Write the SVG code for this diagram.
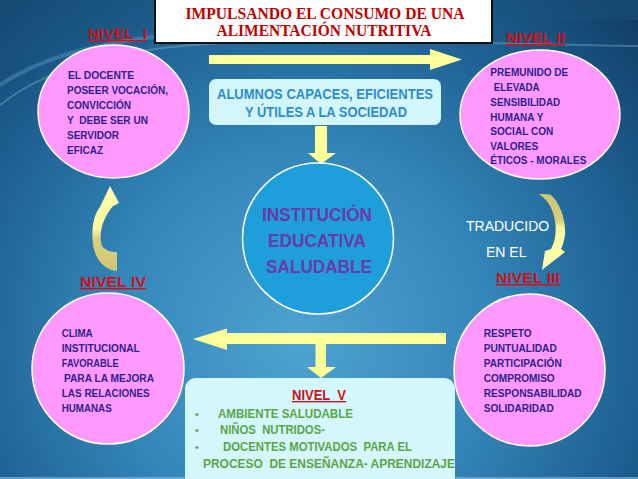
<svg xmlns="http://www.w3.org/2000/svg" width="638" height="479" viewBox="0 0 638 479">
<defs>
<radialGradient id="bg" cx="300" cy="340" r="460" gradientUnits="userSpaceOnUse">
<stop offset="0" stop-color="#4ea3d1"/>
<stop offset="0.4" stop-color="#3587ba"/>
<stop offset="0.75" stop-color="#1d5f90"/>
<stop offset="1" stop-color="#123f68"/>
</radialGradient>
<linearGradient id="gl" x1="0" y1="186" x2="0" y2="271" gradientUnits="userSpaceOnUse">
<stop offset="0" stop-color="#ffffb0"/>
<stop offset="0.5" stop-color="#fbf7a0"/>
<stop offset="0.62" stop-color="#dcd27e"/>
<stop offset="1" stop-color="#cfc472"/>
</linearGradient>
<linearGradient id="gr" x1="0" y1="194" x2="0" y2="270" gradientUnits="userSpaceOnUse">
<stop offset="0" stop-color="#cfc472"/>
<stop offset="0.35" stop-color="#dad07c"/>
<stop offset="0.45" stop-color="#fbf7a0"/>
<stop offset="1" stop-color="#ffffb0"/>
</linearGradient>
<style>
.el{fill:#ff99ff;stroke:#ffffff;stroke-width:1.5}
.et{font-family:"Liberation Sans",Arial,sans-serif;font-weight:bold;font-size:11.5px;fill:#2d1f8c}
.nv{font-family:"Liberation Sans",Arial,sans-serif;font-weight:bold;font-size:14px;fill:#d0101a;text-decoration:underline;white-space:pre}
.ar{fill:#ffff99}
.gt{font-family:"Liberation Sans",Arial,sans-serif;font-weight:bold;font-size:12.5px;fill:#5aa646;white-space:pre}
.bl{font-family:"Liberation Sans",Arial,sans-serif;font-size:11px;fill:#6a9a6a}
.wt{font-family:"Liberation Sans",Arial,sans-serif;font-size:14px;fill:#ffffff}
.ct{font-family:"Liberation Sans",Arial,sans-serif;font-weight:bold;font-size:18.5px;fill:#6a3aa8}
.at{font-family:"Liberation Sans",Arial,sans-serif;font-weight:bold;font-size:15.5px;fill:#2f8ccc}
.tt{font-family:"Liberation Serif","Times New Roman",serif;font-weight:bold;font-size:16px;fill:#c00000}
</style>
</defs>
<rect x="0" y="0" width="638" height="479" fill="url(#bg)"/>
<path d="M0 70 C 60 40, 150 25, 280 22 L 638 20 L 638 0 L 0 0 Z" fill="#1b5a82" opacity="0.35"/>
<path d="M0 105 C 50 65, 130 45, 250 42 C 400 40, 520 44, 638 46" fill="none" stroke="#9fdcec" stroke-width="2" opacity="0.3"/>
<path d="M0 85 C 45 55, 110 38, 200 33" fill="none" stroke="#8fd4e6" stroke-width="4" opacity="0.25"/>
<line x1="0" y1="478" x2="638" y2="478" stroke="#9bd0ec" stroke-width="1.5" opacity="0.7"/>

<g id="connectors">
<path class="ar" d="M209 55 H430 V49 L462 59.5 L430 70 V64 H209 Z"/>
<path class="ar" d="M315 126 H327 V153 H336 L321 164 L308 153 H315 Z"/>
<path class="ar" d="M446 333 H227 V328.5 L193 339 L227 350 V344 H446 Z"/>
<path class="ar" d="M315.5 344 H326 V367 H336 L321 378 L307 367 H315.5 Z"/>
<path fill="url(#gl)" d="M110 186 L119 203 L112.5 206.5 C 103 218, 98 234, 102 246 C 106 251, 111 252, 117 252 L117 271 C 104 270, 95 259, 93 244 C 91 228, 94 214, 100 207 Z"/>
<path fill="url(#gr)" d="M539 194 C 545 194, 549 194, 551 195 C 560 203, 566 220, 565 235 C 564 242, 562 247, 561 249 L565 252 L542 270 L545 251 L551 249 C 556 240, 557 228, 554 216 C 551 205, 546 199, 539 194 Z"/>
</g>

<g id="title">
<rect x="155" y="-2" width="337" height="45" fill="#ffffff" stroke="#111111" stroke-width="2"/>
<text class="tt" x="325" y="18.5" text-anchor="middle" textLength="279" lengthAdjust="spacingAndGlyphs">IMPULSANDO EL CONSUMO DE UNA</text>
<text class="tt" x="324" y="36" text-anchor="middle" textLength="215" lengthAdjust="spacingAndGlyphs">ALIMENTACIÓN NUTRITIVA</text>
</g>

<g id="nivel1">
<text class="nv" x="88" y="39" textLength="59" lengthAdjust="spacingAndGlyphs">NIVEL  I</text>
<ellipse class="el" cx="113.5" cy="111.5" rx="75.5" ry="66.5"/>
<text class="et" x="68" y="79" textLength="66" lengthAdjust="spacingAndGlyphs">EL DOCENTE</text>
<text class="et" x="67" y="94" textLength="101" lengthAdjust="spacingAndGlyphs">POSEER VOCACIÓN,</text>
<text class="et" x="67" y="109" textLength="64" lengthAdjust="spacingAndGlyphs">CONVICCIÓN</text>
<text class="et" x="67" y="124" textLength="81" lengthAdjust="spacingAndGlyphs" style="white-space:pre">Y  DEBE SER UN</text>
<text class="et" x="67" y="139" textLength="52" lengthAdjust="spacingAndGlyphs">SERVIDOR</text>
<text class="et" x="67" y="154" textLength="36" lengthAdjust="spacingAndGlyphs">EFICAZ</text>
</g>

<g id="nivel2">
<text class="nv" x="506" y="43" textLength="59" lengthAdjust="spacingAndGlyphs">NIVEL II</text>
<ellipse class="el" cx="540" cy="114.5" rx="80" ry="64.5"/>
<text class="et" x="490.3" y="75.5" textLength="78" lengthAdjust="spacingAndGlyphs">PREMUNIDO DE</text>
<text class="et" x="493.7" y="90.5" textLength="46" lengthAdjust="spacingAndGlyphs">ELEVADA</text>
<text class="et" x="490.3" y="105.5" textLength="70" lengthAdjust="spacingAndGlyphs">SENSIBILIDAD</text>
<text class="et" x="490.3" y="120.5" textLength="53" lengthAdjust="spacingAndGlyphs">HUMANA Y</text>
<text class="et" x="490.3" y="135" textLength="63" lengthAdjust="spacingAndGlyphs">SOCIAL CON</text>
<text class="et" x="490.3" y="149.5" textLength="48" lengthAdjust="spacingAndGlyphs">VALORES</text>
<text class="et" x="490.3" y="164" textLength="96" lengthAdjust="spacingAndGlyphs">ÉTICOS - MORALES</text>
</g>

<g id="traducido">
<text class="wt" x="466" y="231">TRADUCIDO</text>
<text class="wt" x="486" y="257">EN EL</text>
</g>

<g id="nivel3">
<text class="nv" x="496" y="283" textLength="64" lengthAdjust="spacingAndGlyphs">NIVEL III</text>
<ellipse class="el" cx="529.5" cy="370" rx="75.5" ry="76"/>
<text class="et" x="483.7" y="337" textLength="48" lengthAdjust="spacingAndGlyphs">RESPETO</text>
<text class="et" x="483.7" y="352" textLength="73" lengthAdjust="spacingAndGlyphs">PUNTUALIDAD</text>
<text class="et" x="483.7" y="367" textLength="78" lengthAdjust="spacingAndGlyphs">PARTICIPACIÓN</text>
<text class="et" x="483.7" y="382" textLength="71" lengthAdjust="spacingAndGlyphs">COMPROMISO</text>
<text class="et" x="483.7" y="397" textLength="98" lengthAdjust="spacingAndGlyphs">RESPONSABILIDAD</text>
<text class="et" x="483.7" y="412" textLength="70" lengthAdjust="spacingAndGlyphs">SOLIDARIDAD</text>
</g>

<g id="nivel4">
<text class="nv" x="80" y="287" textLength="66" lengthAdjust="spacingAndGlyphs">NIVEL IV</text>
<ellipse class="el" cx="108" cy="368.5" rx="76" ry="75.5"/>
<text class="et" x="61.7" y="337" textLength="31" lengthAdjust="spacingAndGlyphs">CLIMA</text>
<text class="et" x="61.7" y="352" textLength="78" lengthAdjust="spacingAndGlyphs">INSTITUCIONAL</text>
<text class="et" x="61.7" y="367" textLength="57" lengthAdjust="spacingAndGlyphs">FAVORABLE</text>
<text class="et" x="64" y="382" textLength="90" lengthAdjust="spacingAndGlyphs">PARA LA MEJORA</text>
<text class="et" x="61.7" y="397" textLength="88" lengthAdjust="spacingAndGlyphs">LAS RELACIONES</text>
<text class="et" x="61.7" y="411.5" textLength="50" lengthAdjust="spacingAndGlyphs">HUMANAS</text>
</g>

<g id="alumnos">
<rect x="209" y="79" width="232" height="46" rx="7" fill="#d2f6fc"/>
<text class="at" x="325" y="99" text-anchor="middle" textLength="216" lengthAdjust="spacingAndGlyphs">ALUMNOS CAPACES, EFICIENTES</text>
<text class="at" x="326" y="117" text-anchor="middle" textLength="162" lengthAdjust="spacingAndGlyphs">Y ÚTILES A LA SOCIEDAD</text>
</g>

<g id="institucion">
<circle cx="318" cy="238.5" r="75.5" fill="#1e9fdb" stroke="#ffffff" stroke-width="1.5"/>
<text class="ct" x="317" y="221" text-anchor="middle" textLength="110" lengthAdjust="spacingAndGlyphs">INSTITUCIÓN</text>
<text class="ct" x="317" y="247" text-anchor="middle" textLength="98" lengthAdjust="spacingAndGlyphs">EDUCATIVA</text>
<text class="ct" x="319" y="273" text-anchor="middle" textLength="106" lengthAdjust="spacingAndGlyphs">SALUDABLE</text>
</g>

<g id="nivel5">
<rect x="185" y="378" width="270" height="115" rx="11" fill="#d4f7fb"/>
<text class="nv" x="292" y="400" textLength="54" lengthAdjust="spacingAndGlyphs">NIVEL  V</text>
<text class="bl" x="195" y="418">•</text>
<text class="bl" x="195" y="434">•</text>
<text class="bl" x="195" y="451">•</text>
<text class="gt" x="218" y="418" textLength="135" lengthAdjust="spacingAndGlyphs">AMBIENTE SALUDABLE</text>
<text class="gt" x="220" y="434" textLength="105" lengthAdjust="spacingAndGlyphs">NIÑOS  NUTRIDOS-</text>
<text class="gt" x="223" y="451" textLength="189" lengthAdjust="spacingAndGlyphs">DOCENTES MOTIVADOS  PARA EL</text>
<text class="gt" x="203" y="468" textLength="252" lengthAdjust="spacingAndGlyphs">PROCESO  DE ENSEÑANZA- APRENDIZAJE</text>
</g>
</svg>
